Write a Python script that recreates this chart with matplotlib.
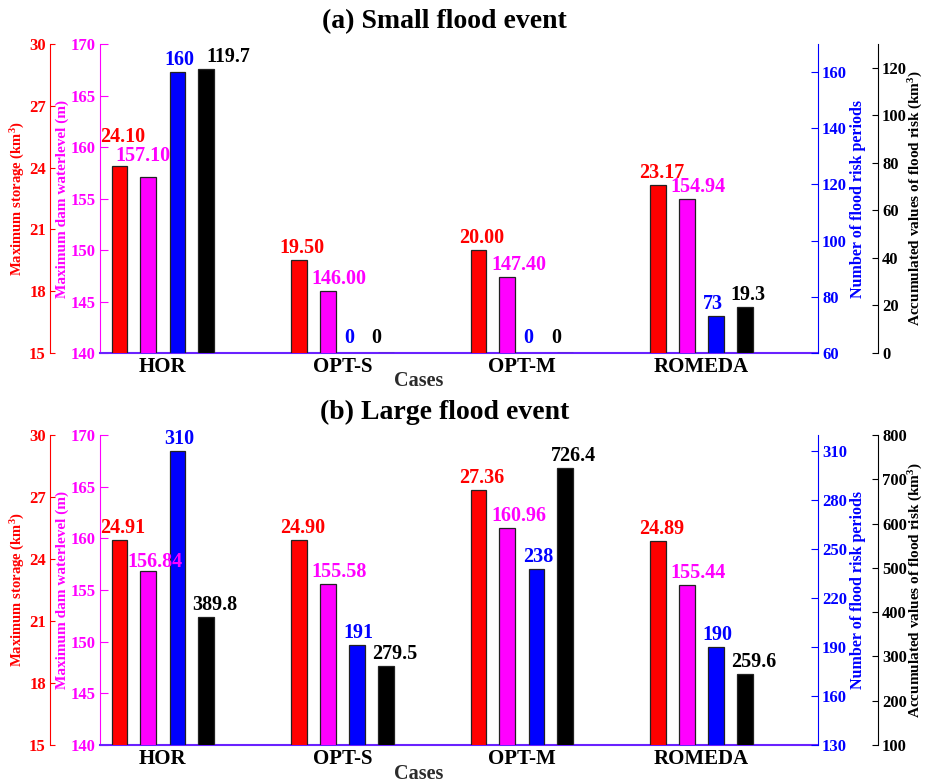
import numpy as np
import matplotlib.pyplot as plt

plt.rcParams['font.family'] = 'Liberation Serif'
plt.rcParams['font.weight'] = 'bold'
plt.rcParams['mathtext.fontset'] = 'custom'
plt.rcParams['mathtext.rm'] = 'Liberation Serif:bold'
plt.rcParams['mathtext.it'] = 'Liberation Serif:bold'
plt.rcParams['mathtext.bf'] = 'Liberation Serif:bold'

cases = ['HOR', 'OPT-S', 'OPT-M', 'ROMEDA']

# (a) small flood event
storage_small = [24.10, 19.50, 20.00, 23.17]
level_small = [157.10, 146.00, 147.40, 154.94]
periods_small = [160, 0, 0, 73]
risk_small = [119.7, 0, 0, 19.3]

# (b) large flood event
storage_large = [24.91, 24.90, 27.36, 24.89]
level_large = [156.84, 155.58, 160.96, 155.44]
periods_large = [310, 191, 238, 190]
risk_large = [389.8, 279.5, 726.4, 259.6]

colors = ['#ff0000', '#ff00ff', '#0000ff', '#000000']
ylabels = ['Maximum storage (km$^3$)', 'Maximum dam waterlevel (m)',
           'Number of flood risk periods', 'Accumulated values of flood risk (km$^3$)']
ylabel_sizes = [10.5, 11, 11.5, 11]
fmts = ['{:.2f}', '{:.2f}', '{:d}', '{:.1f}']

PX = 0.72  # points per pixel at dpi 100
fig = plt.figure(figsize=(9.3, 7.82), dpi=100)

x = np.arange(1, len(cases) + 1)
W = 0.087
offs = [-0.242, -0.081, 0.081, 0.242]
lab_dx = [-19, -16, -13, -14]   # label left edge vs bar centre, px
tick_len = [3.5, 6, 5, 4.5]


def panel(rect, title, title_y, series, lims, ticks, nudges):
    ax = fig.add_axes(rect)          # magenta axis (left, inner)
    ax_r = ax.twinx()                # red axis (left, outer)
    ax_b = ax.twinx()                # blue axis (right, inner)
    ax_k = ax.twinx()                # black axis (right, outer)
    axs = [ax_r, ax, ax_b, ax_k]

    for a in axs:
        for s in a.spines.values():
            s.set_visible(False)
        a.set_xlim(0.65, 4.65)

    # red on the left, offset outward
    ax_r.yaxis.tick_left()
    ax_r.yaxis.set_label_position('left')
    ax_r.spines['left'].set_visible(True)
    ax_r.spines['left'].set_position(('axes', -0.0696))
    ax.spines['left'].set_visible(True)
    ax.spines['bottom'].set_visible(True)
    ax.spines['bottom'].set_color('#6a22ff')
    ax.spines['bottom'].set_linewidth(1.5)
    ax_b.spines['right'].set_visible(True)
    ax_k.spines['right'].set_visible(True)
    ax_k.spines['right'].set_position(('axes', 1.0836))

    label_x = [-0.114, -0.053, 1.056, 1.1365]
    sides = ['left', 'left', 'right', 'right']
    for i, a in enumerate(axs):
        c = colors[i]
        vals = series[i]
        a.bar(x + offs[i], [max(v, 0) for v in vals], W, color=c,
              edgecolor='#222222', linewidth=0.9, zorder=3)
        a.set_ylim(*lims[i])
        a.set_yticks(ticks[i])
        a.spines[sides[i]].set_color(c)
        a.tick_params(axis='y', direction='in', length=tick_len[i], width=0.8,
                      colors=c, labelsize=12, pad=3)
        a.set_ylabel(ylabels[i], color=c, fontsize=ylabel_sizes[i],
                     fontweight='bold', va='center')
        a.yaxis.set_label_coords(label_x[i], 0.5)
        for j, v in enumerate(vals):
            txt = '0' if v == 0 else fmts[i].format(v)
            base = v
            gap = 7
            if v <= lims[i][0]:
                base = lims[i][0]
                gap = 10
            ndx, ndy = nudges.get((i, j), (0, 0))
            ax_k.annotate(txt, xy=(x[j] + offs[i], base), xycoords=a.transData,
                          xytext=((lab_dx[i] + ndx) * PX, (gap + ndy) * PX),
                          textcoords='offset points', ha='left', va='baseline',
                          color=c, fontsize=14.5, fontweight='bold',
                          annotation_clip=False, zorder=10)

    ax.set_xticks(x)
    ax.set_xticklabels(cases, fontsize=15, fontweight='bold')
    ax.tick_params(axis='x', length=0, pad=3)
    ax.set_xlabel('Cases', fontsize=14.5, fontweight='bold', color='#2b2b2b',
                  va='center')
    ax.xaxis.set_label_coords(0.444, -0.092)
    fig.text(0.478, title_y, title, ha='center', va='center',
             fontsize=20, fontweight='bold')


panel([0.1075, 0.5486, 0.772, 0.3951], '(a) Small flood event', 0.972,
      [storage_small, level_small, periods_small, risk_small],
      [(15, 30), (140, 170), (60, 170), (0, 130)],
      [np.arange(15, 31, 3), np.arange(140, 171, 5),
       np.arange(60, 161, 20), np.arange(0, 121, 20)],
      {(0, 0): (0, 17), (1, 0): (-17, 9), (3, 0): (14, 0)})

panel([0.1075, 0.0473, 0.772, 0.3964], '(b) Large flood event', 0.472,
      [storage_large, level_large, periods_large, risk_large],
      [(15, 30), (140, 170), (130, 320), (100, 800)],
      [np.arange(15, 31, 3), np.arange(140, 171, 5),
       np.arange(130, 311, 30), np.arange(100, 801, 100)],
      {(1, 0): (-5, -3)})

fig.savefig('out.png', dpi=100)
